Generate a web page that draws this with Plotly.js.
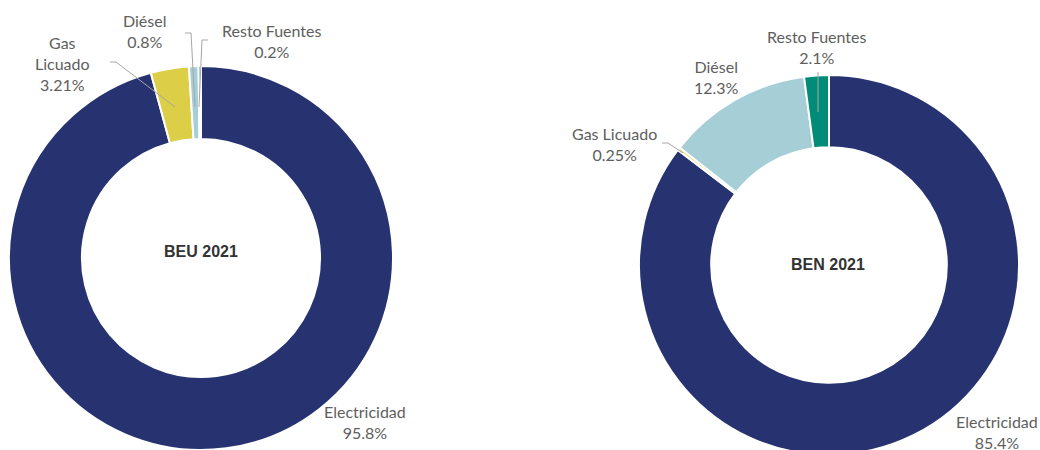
<!DOCTYPE html>
<html>
<head>
<meta charset="utf-8">
<script src="https://cdn.plot.ly/plotly-3.0.1.min.js"></script>
<style>
html,body{margin:0;padding:0;background:#fff;overflow:hidden;}
#chart{width:1040px;height:470px;}
</style>
</head>
<body>
<div id="chart"></div>
<script>
// ---- data ----
const categories = ["Electricidad", "Gas Licuado", "Diésel", "Resto Fuentes"];
const beuValues = [95.8, 3.21, 0.8, 0.2];
const benValues = [85.4, 0.25, 12.3, 2.1];
const beuLabels = ["95.8%", "3.21%", "0.8%", "0.2%"];
const benLabels = ["85.4%", "0.25%", "12.3%", "2.1%"];
const chartTitles = ["BEU 2021", "BEN 2021"];
const colors = ["#263370", "#dccf47", "#a6ced7", "#008c78"];

// ---- layout helpers (pixel -> paper) ----
const W = 1040, H = 470;
const px = x => x / W;
const py = y => 1 - y / H;

function pieDomain(cx, cy, r) {
  return { x: [px(cx - r), px(cx + r)], y: [py(cy + r), py(cy - r)] };
}

const leftPie = { cx: 201, cy: 258, r: 192 };
const rightPie = { cx: 829, cy: 265, r: 190 };

function pieTrace(values, dom) {
  return {
    type: "pie",
    labels: categories,
    values: values,
    sort: false,
    direction: "clockwise",
    rotation: 0,
    hole: 0.62,
    textinfo: "none",
    hoverinfo: "label+percent",
    showlegend: false,
    marker: { colors: colors, line: { color: "#ffffff", width: 2 } },
    domain: pieDomain(dom.cx, dom.cy, dom.r)
  };
}

const labelFont = { family: "Lato, 'Open Sans', sans-serif", size: 16, color: "#5e5e5e" };
const titleFont = { family: "'Liberation Sans', Arial, sans-serif", size: 16, color: "#333333" };

// label positions (pixel centres) for each category, per chart
const leftLabelPos = [[365, 422], [62, 63], [144, 31], [272, 41]];
const rightLabelPos = [[997, 432], [614, 144], [716, 77], [817, 47]];
const leftLabelText = [
  "Electricidad<br>" + beuLabels[0],
  "Gas<br>Licuado<br>" + beuLabels[1],
  "Diésel<br>" + beuLabels[2],
  "Resto Fuentes<br>" + beuLabels[3]
];
const rightLabelText = [
  "Electricidad<br>" + benLabels[0],
  "Gas Licuado<br>" + benLabels[1],
  "Diésel<br>" + benLabels[2],
  "Resto Fuentes<br>" + benLabels[3]
];

const annotations = [];
function addLabels(pos, texts) {
  pos.forEach((p, i) => {
    annotations.push({
      xref: "paper", yref: "paper", x: px(p[0]), y: py(p[1]),
      xanchor: "center", yanchor: "middle",
      text: texts[i], showarrow: false, font: labelFont, align: "center"
    });
  });
}
addLabels(leftLabelPos, leftLabelText);
addLabels(rightLabelPos, rightLabelText);
annotations.push({ xref: "paper", yref: "paper", x: px(leftPie.cx), y: py(251),
  xanchor: "center", yanchor: "middle",
  text: "<b>" + chartTitles[0] + "</b>", showarrow: false, font: titleFont });
annotations.push({ xref: "paper", yref: "paper", x: px(rightPie.cx - 1), y: py(264),
  xanchor: "center", yanchor: "middle",
  text: "<b>" + chartTitles[1] + "</b>", showarrow: false, font: titleFont });

// leader lines (pixel paths)
const leaders = [
  [[110, 62], [116, 62], [175, 107]],
  [[185, 33], [191, 33], [195, 107]],
  [[208, 40], [202, 40], [199, 107]],
  [[818, 72], [818, 112]],
  [[662, 143], [668, 143], [683, 153]]
];
const shapes = leaders.map(pts => ({
  type: "path", xref: "paper", yref: "paper",
  path: pts.map((p, i) => (i ? "L" : "M") + px(p[0]) + "," + py(p[1])).join(" "),
  line: { color: "#a6a6a6", width: 1 }
}));

const layout = {
  width: W, height: H,
  margin: { l: 0, r: 0, t: 0, b: 0 },
  paper_bgcolor: "#ffffff",
  showlegend: false,
  annotations: annotations,
  shapes: shapes
};

Plotly.newPlot("chart", [pieTrace(beuValues, leftPie), pieTrace(benValues, rightPie)], layout, { displayModeBar: false, staticPlot: true });
</script>
</body>
</html>
